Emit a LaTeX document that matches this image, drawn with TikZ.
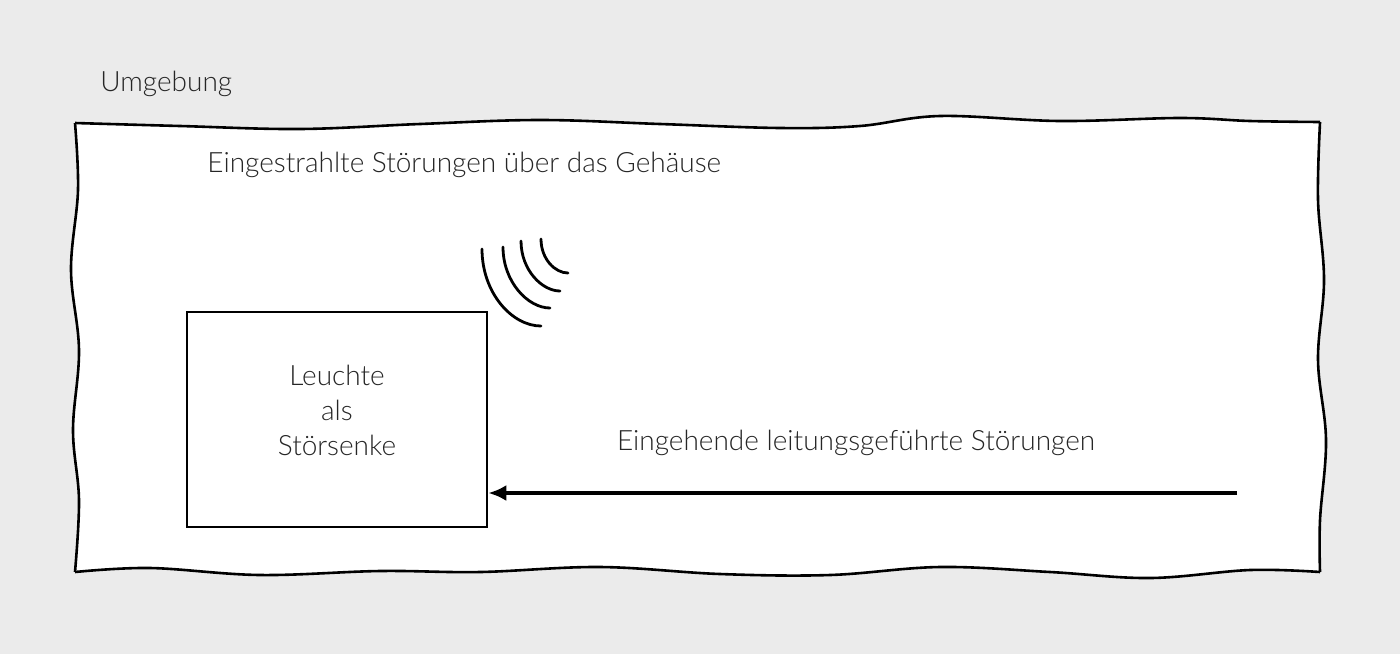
\documentclass[tikz,border=0pt]{standalone}
\usepackage{fontspec}
\setmainfont{Lato Light}[BoldFont=Lato]
\usetikzlibrary{arrows.meta}
\begin{document}
\begin{tikzpicture}[x=0.5pt,y=-0.5pt,
  lbl/.style={font=\fontsize{14pt}{16pt}\selectfont, text=black!85, inner sep=0},
  frame/.style={line width=1.3pt, line join=miter},
  wave/.style={line width=1.4pt, line cap=round}]
\fill[black!8] (0,0) rectangle (1400,654);
\useasboundingbox (0,0) rectangle (1400,654);
% wavy frame
\def\topedge{(75,123) (180,126) (300,129) (420,124) (540,120) (660,124) (780,128) (860,126) (940,116) (1060,121) (1180,118) (1250,121) (1320,122)}
\def\rightedge{(1320,122) (1318,200) (1324,280) (1318,360) (1326,440) (1320,520) (1320,572)}
\def\bottomedge{(1320,572) (1250,570) (1150,578) (1050,572) (940,567) (830,575) (720,574) (600,567) (480,572) (380,571) (260,575) (150,568) (75,572)}
\def\leftedge{(75,572) (79,500) (73,430) (79,350) (71,270) (78,190) (75,123)}
\fill[white] plot[smooth, tension=0.6] coordinates {\topedge}
  -- plot[smooth, tension=0.6] coordinates {\rightedge}
  -- plot[smooth, tension=0.6] coordinates {\bottomedge}
  -- plot[smooth, tension=0.6] coordinates {\leftedge} -- cycle;
\draw[frame] plot[smooth, tension=0.6] coordinates {\topedge};
\draw[frame] plot[smooth, tension=0.6] coordinates {\rightedge};
\draw[frame] plot[smooth, tension=0.6] coordinates {\bottomedge};
\draw[frame] plot[smooth, tension=0.6] coordinates {\leftedge};
% box
\node[draw, line width=1.3pt, minimum width=150pt, minimum height=107.5pt, inner sep=0] (box) at (337,419.5) {};
\node[lbl, align=center] (t) at (337,410) {Leuchte\\[1.5pt]als\\[1.5pt]Störsenke};
\node[lbl, anchor=west] (u) at (100,84) {Umgebung};
\node[lbl, anchor=west] (g) at (207,165) {Eingestrahlte Störungen über das Gehäuse};
\node[lbl] (l) at (856,443) {Eingehende leitungsgeführte Störungen};
\coordinate (s) at (1237,493);
\draw[line width=2pt, -{Latex[length=9pt,width=8pt]}] (s) -- (box.east |- s);
% waves
\draw[wave] (482,249) .. controls (482,293) and (512,326) .. (541,326);
\draw[wave] (503,247) .. controls (503,282) and (528,308) .. (550,308);
\draw[wave] (521,241) .. controls (521,270) and (542,291) .. (560,291);
\draw[wave] (541,239) .. controls (541,259) and (555,273) .. (568,273);
\end{tikzpicture}
\end{document}
